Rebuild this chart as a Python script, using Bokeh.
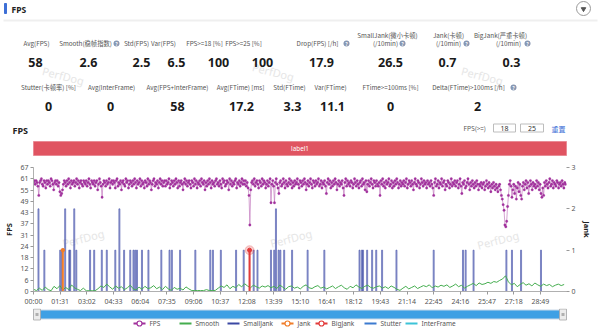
import numpy as np
from bokeh.plotting import figure
from bokeh.layouts import column
from bokeh.models import Range1d, LinearAxis, FixedTicker
from bokeh.core.properties import value
from bokeh.embed import file_html
from bokeh.resources import INLINE

# ---------------- data ----------------
stat_names_1 = ["Avg(FPS)", "Smooth(稳帧指数)", "Std(FPS)", "Var(FPS)", "FPS>=18 [%]",
                "FPS>=25 [%]", "Drop(FPS) [/h]", "SmallJank(微小卡顿)", "Jank(卡顿)", "BigJank(严重卡顿)"]
stat_values_1 = ["58", "2.6", "2.5", "6.5", "100", "100", "17.9", "26.5", "0.7", "0.3"]
stat_names_2 = ["Stutter(卡顿率) [%]", "Avg(InterFrame)", "Avg(FPS+InterFrame)", "Avg(FTime) [ms]",
                "Std(FTime)", "Var(FTime)", "FTime>=100ms [%]", "Delta(FTime)>100ms [/h]"]
stat_values_2 = ["0", "0", "58", "17.2", "3.3", "11.1", "0", "2"]

x_tick_labels = ["00:00", "01:31", "03:02", "04:33", "06:04", "07:35", "09:06", "10:37", "12:08", "13:39",
                 "15:10", "16:41", "18:12", "19:43", "21:14", "22:45", "24:16", "25:47", "27:18", "28:49"]
y_tick_labels = ["0", "6", "12", "18", "24", "31", "37", "43", "49", "55", "61", "67"]
jank_tick_labels = ["0", "1", "2", "3"]

# FPS sampled every 3 s
fps_values = [
    59, 60, 58, 60, 59, 57, 52, 59, 60, 61, 58, 57, 60, 59, 56, 60, 58, 60, 59, 57, 61, 60, 58, 55, 59, 60, 58, 60, 57, 59,
    54, 52, 53, 55, 58, 60, 59, 57, 60, 58, 61, 59, 56, 60, 58, 59, 60, 57, 59, 61, 58, 60, 56, 59, 60, 58, 57, 60, 59, 58,
    60, 57, 59, 61, 58, 56, 60, 59, 58, 60, 57, 59, 60, 55, 58, 61, 59, 57, 51, 58, 60, 59, 57, 60, 58, 59, 61, 56, 59, 60,
    58, 60, 59, 56, 60, 61, 57, 59, 58, 60, 55, 59, 60, 58, 57, 61, 59, 60, 56, 58, 60, 59, 57, 60, 58, 61, 59, 56, 60, 58,
    59, 61, 57, 60, 58, 59, 56, 60, 59, 57, 61, 58, 60, 59, 55, 58, 60, 61, 57, 59, 58, 60, 56, 59, 61, 58, 60, 57, 59, 60,
    57, 60, 58, 59, 61, 56, 58, 60, 59, 57, 60, 58, 61, 59, 56, 60, 57, 59, 60, 58, 55, 59, 61, 58, 60, 57, 59, 60, 58, 56,
    60, 59, 57, 61, 58, 60, 56, 59, 58, 60, 57, 61, 59, 58, 60, 55, 59, 57, 60, 58, 61, 59, 56, 60, 58, 59, 57, 60, 61, 58,
    59, 57, 60, 58, 56, 61, 59, 60, 57, 58, 60, 59, 55, 61, 58, 60, 57, 59, 58, 60, 61, 56, 59, 58, 60, 57, 59, 61, 58, 60,
    58, 60, 57, 59, 56, 52, 36, 55, 59, 60, 58, 61, 57, 59, 60, 58, 56, 60, 59, 57, 61, 58, 60, 59, 56, 58, 60, 57, 59, 61,
    48, 58, 60, 57, 48, 59, 61, 58, 56, 53, 59, 60, 57, 58, 61, 59, 56, 60, 58, 57, 59, 61, 58, 60, 56, 59, 57, 60, 58, 59,
    61, 58, 56, 60, 59, 57, 60, 58, 61, 59, 55, 58, 60, 57, 59, 61, 58, 56, 60, 59, 57, 60, 58, 59, 61, 57, 58, 60, 56, 59,
    58, 60, 57, 53, 59, 61, 58, 60, 56, 59, 57, 60, 58, 61, 59, 55, 58, 60, 57, 59, 58, 60, 56, 52, 59, 61, 57, 60, 58, 59,
    57, 60, 59, 56, 58, 61, 59, 57, 60, 58, 56, 59, 60, 57, 61, 58, 59, 55, 60, 54, 58, 60, 57, 59, 61, 58, 56, 60, 59, 57,
    60, 58, 57, 59, 52, 60, 58, 61, 57, 59, 56, 60, 58, 59, 61, 57, 58, 60, 56, 59, 57, 60, 58, 61, 59, 56, 58, 60, 57, 59,
    58, 60, 57, 59, 61, 56, 58, 60, 59, 57, 60, 58, 55, 59, 61, 58, 57, 60, 59, 56, 58, 61, 59, 57, 60, 58, 59, 56, 60, 58,
    59, 57, 60, 58, 56, 52, 59, 61, 57, 58, 60, 56, 59, 58, 61, 57, 59, 60, 55, 58, 57, 60, 59, 56, 58, 61, 57, 59, 58, 60,
    57, 59, 60, 56, 58, 61, 57, 53, 59, 58, 60, 56, 57, 59, 61, 58, 55, 59, 57, 60, 58, 56, 59, 57, 60, 58, 55, 58, 57, 59,
    56, 58, 59, 55, 57, 60, 58, 56, 59, 57, 54, 58, 56, 59, 57, 55, 58, 56, 54, 57, 58, 55, 52, 50, 47, 44, 36, 35, 38, 46,
    52, 58, 60, 57, 51, 55, 58, 53, 57, 50, 56, 59, 54, 58, 52, 50, 57, 59, 55, 58, 60, 56, 59, 53, 57, 60, 58, 55, 59, 57,
    58, 56, 60, 57, 59, 55, 58, 53, 51, 56, 52, 59, 57, 60, 58, 56, 59, 61, 57, 58, 60, 56, 59, 58, 57, 60, 59, 56, 58, 59,
    57, 60, 58, 56, 59, 58,
]
fps_step = 3

# Smooth sampled every 10 s
smooth_values = [
    1.2, 0.5, 1.8, 0.6, 2.4, 1.0, 0.4, 2.8, 1.5, 3.2, 0.8, 2.2, 1.0, 3.5, 2.0, 1.2, 0.5, 1.8, 0.4, 0.4,
    0.4, 0.4, 1.5, 3.0, 2.2, 4.0, 2.5, 1.2, 3.0, 1.8, 2.6, 1.0, 2.0, 3.4, 1.5, 0.8, 2.4, 1.2, 2.8, 1.6,
    2.0, 3.2, 1.5, 2.4, 1.0, 2.8, 1.4, 0.6, 2.2, 1.2, 1.8, 0.8, 2.5, 1.4, 0.5, 0.5, 0.5, 0.5, 0.5, 1.0,
    0.5, 0.5, 0.6, 1.8, 3.0, 2.2, 3.6, 1.5, 2.8, 2.0, 3.8, 2.5, 4.2, 3.0, 2.0, 3.4, 2.6, 1.8, 3.0, 2.4,
    3.2, 2.0, 2.8, 1.6, 3.5, 2.4, 1.2, 2.6, 3.0, 1.8, 2.4, 1.4, 2.8, 3.6, 2.0, 1.6, 2.6, 3.2, 1.8, 2.4,
    1.4, 2.2, 3.0, 1.6, 2.6, 3.4, 2.0, 1.2, 2.8, 2.0, 3.6, 2.4, 1.6, 2.8, 3.4, 2.2, 1.8, 2.6, 3.0, 1.8,
    2.6, 1.6, 3.0, 2.2, 1.2, 0.6, 1.8, 2.8, 1.4, 2.2, 3.0, 1.6, 2.4, 3.2, 2.6, 3.6, 2.0, 3.0, 2.4, 3.4,
    2.8, 3.6, 2.2, 3.0, 4.0, 2.6, 3.4, 1.8, 2.8, 3.6, 4.4, 3.2, 4.6, 3.8, 4.2, 5.0, 4.4, 5.4, 5.0, 6.0,
    6.8, 8.5, 5.2, 3.6, 4.4, 2.6, 3.8, 4.8, 3.4, 4.2, 3.0, 4.6, 3.6, 2.8, 4.0, 3.2, 3.8, 2.6, 3.4, 4.0,
    3.2, 3.8,
]
smooth_step = 10

smalljank_t = [17, 37, 91, 97, 108, 122, 125, 139, 146, 193, 207, 233, 250, 279, 293, 309, 330, 341,
               347, 353, 370, 392, 436, 464, 472, 500, 552, 603, 612, 639, 691, 717, 751, 764, 810,
               821, 827, 836, 842, 855, 882, 935, 992, 1112, 1120, 1124, 1138, 1155, 1169, 1189, 1238,
               1365, 1465, 1474, 1501, 1613, 1632, 1663, 1731]
smalljank_v = [2, 1, 1, 1, 2, 1, 1, 2, 1, 1, 1, 1, 1, 1, 2, 1, 1, 1,
               1, 1, 1, 1, 1, 1, 1, 1, 1, 1, 1, 1, 1, 1, 1, 1, 1,
               1, 2, 1, 1, 1, 1, 1, 1, 1, 1, 1, 1, 1, 1, 1, 1,
               1, 1, 1, 1, 1, 1, 1, 1]
jank_t = [100]
jank_v = [1]
bigjank_t = [737]
bigjank_v = [1]
stutter_v = [0, 0]
interframe_v = [0, 0]
duration = 1818

legend_names = ["FPS", "Smooth", "SmallJank", "Jank", "BigJank", "Stutter", "InterFrame"]

# ---------------- style ----------------
C_FPS = "#a1319c"
C_SMOOTH = "#45ad4f"
C_SJ = "#3b48a3"
C_JANK = "#f07d2a"
C_BIG = "#e23b3b"
C_STUT = "#3c7bd0"
C_INTER = "#3cc3d8"
LBL = "#555555"
FONT = value("Noto Sans CJK SC")
FONT_L = value("Noto Sans")

# ---------------- top panel ----------------
top = figure(width=600, height=160, x_range=Range1d(0, 600), y_range=Range1d(160, 0),
             toolbar_location=None, output_backend="svg", min_border=0,
             x_axis_location=None, y_axis_location=None, outline_line_color=None,
             frame_align=False)
top.xgrid.visible = False
top.ygrid.visible = False

top.quad(left=[4], right=[6], top=[3], bottom=[13], color="#3d6fd6")
top.text(x=[11], y=[8.5], text=["FPS"], text_font=FONT_L, text_font_size="8.5px",
         text_font_style="bold", text_baseline="middle", text_align="left", text_color="#222")
top.scatter(x=[583], y=[8], marker="circle", size=14, fill_color="white", line_color="#9a9a9a")
top.scatter(x=[583], y=[8.5], marker="inverted_triangle", size=4.5, color="#555")
top.segment(x0=[3], x1=[597], y0=[20], y1=[20], line_color="#efefef", line_width=2)

# watermarks
top.text(x=[42, 252, 461], y=[70, 66, 70], text=["PerfDog"] * 3, angle=-0.25,
         text_font=FONT_L, text_font_size="11px", text_color="#e6e6e6", text_baseline="middle")

l1_x = [36, 85, 136, 163, 204, 243, 317, 387, 448, 500]
l1_y = [43, 43, 43, 43, 43, 43, 43, 35, 35, 35]
v1_x = [35, 88, 141, 176, 218, 262, 321, 390, 447, 511]
top.text(x=l1_x, y=l1_y, text=stat_names_1, text_font=FONT, text_font_size="6.3px",
         text_color=LBL, text_align="center", text_baseline="middle")
top.text(x=[385, 448, 508], y=[43, 43, 43], text=["(/10min)"] * 3, text_font=FONT,
         text_font_size="6.3px", text_color=LBL, text_align="center", text_baseline="middle")
top.text(x=v1_x, y=[62] * len(v1_x), text=stat_values_1, text_font=FONT_L, text_font_size="12.5px",
         text_font_style="bold", text_color="#1a1a1a", text_align="center", text_baseline="middle")

l2_x = [48, 111, 177, 240, 289, 330, 390, 468]
v2_x = [48, 110, 177, 241, 292, 332, 390, 477]
top.text(x=l2_x, y=[87] * len(l2_x), text=stat_names_2, text_font=FONT, text_font_size="6.3px",
         text_color=LBL, text_align="center", text_baseline="middle")
top.text(x=v2_x, y=[106] * len(v2_x), text=stat_values_2, text_font=FONT_L, text_font_size="12.5px",
         text_font_style="bold", text_color="#1a1a1a", text_align="center", text_baseline="middle")

help_x = [116, 346, 402, 466, 527, 513]
help_y = [43, 43, 43, 43, 43, 87]
top.scatter(x=help_x, y=help_y, marker="circle", size=6, fill_color="#8797b2", line_color=None)
top.text(x=help_x, y=[y + 0.3 for y in help_y], text=["?"] * len(help_x), text_font=FONT_L,
         text_font_size="4.5px", text_font_style="bold", text_color="white",
         text_align="center", text_baseline="middle")

# chart title + threshold inputs
top.text(x=[12], y=[130], text=["FPS"], text_font=FONT_L, text_font_size="9px",
         text_font_style="bold", text_color="#222", text_baseline="middle")
top.text(x=[463], y=[128], text=["FPS(>=)"], text_font=FONT, text_font_size="6.3px",
         text_color=LBL, text_baseline="middle")
top.quad(left=[493, 520], right=[515, 543], top=[123.5, 123.5], bottom=[131.5, 131.5],
         fill_color="white", line_color="#bdbdbd", line_width=1)
top.text(x=[504, 531.5], y=[128, 128], text=["18", "25"], text_font=FONT_L, text_font_size="7px",
         text_color="#333", text_align="center", text_baseline="middle")
top.text(x=[558], y=[128], text=["重置"], text_font=FONT, text_font_size="7px",
         text_color="#3a6cd6", text_align="center", text_baseline="middle")
top.quad(left=[33], right=[566], top=[141], bottom=[155], fill_color="#e05461", line_color="#e98b95")
top.text(x=[299.5], y=[148.3], text=["label1"], text_font=FONT_L, text_font_size="6.3px",
         text_color="white", text_align="center", text_baseline="middle")

# ---------------- chart ----------------
p = figure(width=600, height=148, x_range=Range1d(0, duration), y_range=Range1d(0, 67.1),
           toolbar_location=None, output_backend="svg", min_border_left=33, min_border_right=34,
           min_border_top=7, min_border_bottom=17, outline_line_color=None, frame_align=False)
p.extra_y_ranges = {"jank": Range1d(0, 3)}
p.xgrid.visible = False
p.ygrid.visible = False

# watermarks in plot
p.text(x=[99, 808, 1514], y=[26, 26, 25], text=["PerfDog"] * 3, angle=0.25,
       text_font=FONT_L, text_font_size="11px", text_color="#e6e6e6", text_baseline="middle")

fps_t = np.arange(len(fps_values)) * fps_step
smooth_t = np.arange(len(smooth_values)) * smooth_step

def spike_series(ts, vs, w=1.5):
    xs, ys = [0], [0]
    for t, v in zip(ts, vs):
        xs += [t - w, t - w, t + w, t + w]
        ys += [0, v, v, 0]
    xs.append(duration)
    ys.append(0)
    return xs, ys

# zero-valued series
p.line([0, duration], stutter_v, color=C_STUT, line_width=1.2, y_range_name="jank")
p.line([0, duration], interframe_v, color=C_INTER, line_width=1.2, y_range_name="jank")

# SmallJank bars
p.vbar(x=smalljank_t, top=smalljank_v, width=3.5, bottom=0, y_range_name="jank",
       fill_color="#7480c8", fill_alpha=0.55, line_color=C_SJ, line_width=0.7, line_alpha=0.85)

# Smooth
p.line(smooth_t, smooth_values, color=C_SMOOTH, line_width=1)

# BigJank / Jank lines
bx, by = spike_series(bigjank_t, bigjank_v)
p.line(bx, by, color=C_BIG, line_width=1.2, y_range_name="jank")
jx, jy = spike_series(jank_t, jank_v)
p.line(jx, jy, color=C_JANK, line_width=1.2, y_range_name="jank")
p.scatter(jank_t, jank_v, size=3.5, color=C_JANK, y_range_name="jank")
p.scatter(bigjank_t, bigjank_v, size=9, color=C_BIG, alpha=0.25, y_range_name="jank")
p.scatter(bigjank_t, bigjank_v, size=4, color=C_BIG, y_range_name="jank")

# FPS
p.line(fps_t, fps_values, color="#bf6fba", line_width=0.8, alpha=0.8)
p.scatter(fps_t, fps_values, size=2.4, color=C_FPS, line_width=0.3)

# axes
p.xaxis.ticker = FixedTicker(ticks=[91 * i for i in range(len(x_tick_labels))])
p.xaxis.major_label_overrides = {91 * i: s for i, s in enumerate(x_tick_labels)}
y_ticks = [round(6.1 * k, 1) for k in range(len(y_tick_labels))]
p.yaxis.ticker = FixedTicker(ticks=y_ticks)
p.yaxis.major_label_overrides = {t: s for t, s in zip(y_ticks, y_tick_labels)}
p.yaxis.axis_label = "FPS"

ax_r = LinearAxis(y_range_name="jank", axis_label="Jank",
                  ticker=FixedTicker(ticks=[0, 1, 2, 3]))
ax_r.major_label_overrides = {i: s for i, s in enumerate(jank_tick_labels)}
p.add_layout(ax_r, "right")

for ax in [p.xaxis[0], p.yaxis[0], ax_r]:
    ax.major_label_text_font_size = "7px"
    ax.major_label_text_color = "#555"
    ax.major_label_text_font = "Noto Sans"
    ax.major_tick_out = 3
    ax.major_tick_in = 0
    ax.minor_tick_out = 0
    ax.minor_tick_in = 0
    ax.major_tick_line_color = "#999"
    ax.axis_line_color = "#b0b0b0"
    ax.major_label_standoff = 2
    ax.axis_label_text_font_size = "7.5px"
    ax.axis_label_text_font_style = "bold"
    ax.axis_label_text_font = "Noto Sans"
    ax.axis_label_text_color = "#222"
    ax.axis_label_standoff = 3
ax_r.axis_line_color = None

# ---------------- bottom: slider + legend ----------------
bot = figure(width=600, height=21, x_range=Range1d(0, 600), y_range=Range1d(21, 0),
             toolbar_location=None, output_backend="svg", min_border=0,
             x_axis_location=None, y_axis_location=None, outline_line_color=None,
             frame_align=False)
bot.xgrid.visible = False
bot.ygrid.visible = False
bot.quad(left=[33], right=[566], top=[1.5], bottom=[10.5], fill_color="#3ea0e4", line_color="#c9d9e8")
bot.quad(left=[33, 559], right=[40, 566], top=[0.5, 0.5], bottom=[11.5, 11.5],
         fill_color="#ececec", line_color="#a8a8a8", line_width=0.8)
bot.quad(left=[35, 561], right=[38, 564], top=[4.5, 4.5], bottom=[7.5, 7.5],
         fill_color="#b0b0b0", line_color=None)

leg_colors = [C_FPS, C_SMOOTH, C_SJ, C_JANK, C_BIG, C_STUT, C_INTER]
leg_x0 = [133, 179, 227, 281, 315, 364, 405]
leg_marker = [True, False, False, True, True, False, False]
ly = 15
bot.segment(x0=leg_x0, x1=[x + 12 for x in leg_x0], y0=[ly] * 7, y1=[ly] * 7,
            line_color=leg_colors, line_width=2.2)
mk = [i for i in range(7) if leg_marker[i]]
bot.scatter(x=[leg_x0[i] + 6 for i in mk], y=[ly] * len(mk), size=5,
            fill_color="white", line_color=[leg_colors[i] for i in mk], line_width=1.2)
bot.text(x=[x + 16 for x in leg_x0], y=[ly] * 7, text=legend_names, text_font=FONT_L,
         text_font_size="6.5px", text_color="#555", text_baseline="middle")

layout = column(top, p, bot, spacing=0)
open("out.html", "w").write(file_html(layout, INLINE))
